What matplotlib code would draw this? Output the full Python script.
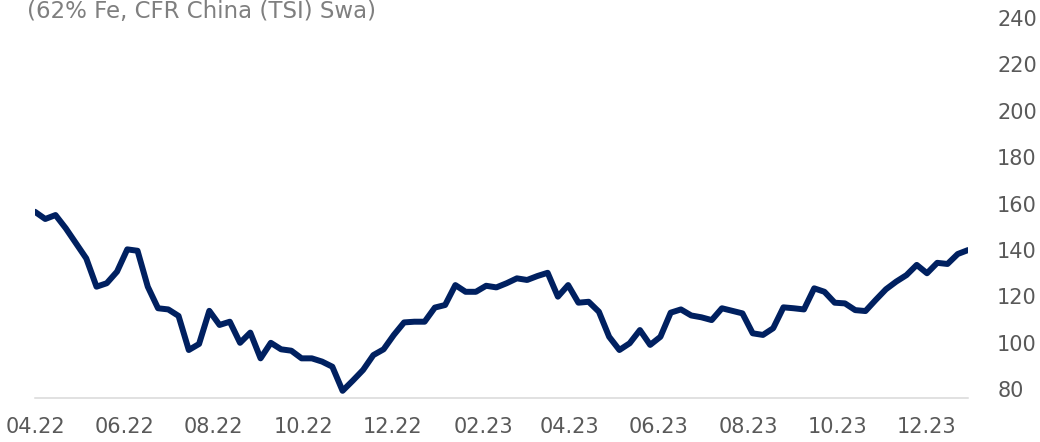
import pandas as pd
import matplotlib
matplotlib.use('Agg')
import matplotlib.pyplot as plt
import matplotlib.dates as mdates
from matplotlib.transforms import ScaledTranslation

# Weekly iron ore price, 62% Fe CFR China (TSI), USD/t
start_date = '2022-04-01'
prices = [
    160.3, 157.2, 158.9, 153.2, 146.7, 140.2, 128.0, 129.5, 134.5, 144.1,
    143.5, 128.0, 118.7, 118.2, 115.4, 100.7, 103.3, 117.6, 111.5, 112.9,
    103.8, 108.2, 97.1, 103.8, 101.0, 100.4, 97.1, 97.1, 95.7, 93.5,
    83.1, 87.5, 92.1, 98.5, 101.0, 107.2, 112.6, 112.9, 112.9, 119.0,
    120.1, 128.7, 125.8, 125.8, 128.4, 127.7, 129.5, 131.6, 130.9, 132.6,
    134.0, 123.7, 128.7, 121.1, 121.5, 117.2, 106.4, 100.7, 103.6, 109.3,
    102.9, 106.4, 116.8, 118.2, 115.6, 114.8, 113.6, 118.7, 117.6, 116.5,
    107.9, 107.2, 110.1, 119.1, 118.7, 118.2, 127.3, 125.8, 121.1, 120.8,
    117.9, 117.5, 122.3, 126.9, 130.2, 133.0, 137.4, 133.8, 138.3, 137.8,
    142.1, 143.8,
]
dates = pd.date_range(start_date, periods=len(prices), freq='7D')

y_ticks = [80, 100, 120, 140, 160, 180, 200, 220, 240]
title = '(62% Fe, CFR China (TSI) Swa)'

line_color = '#002060'
tick_color = '#595959'

fig = plt.figure(figsize=(10.4, 4.42), dpi=100)
ax = fig.add_axes([35 / 1040, 1 - 398 / 442, (968 - 35) / 1040, (398 - 27) / 442])

ax.plot(dates, prices, color=line_color, linewidth=4.3, solid_capstyle='round',
        solid_joinstyle='round')

ax.set_xlim(dates[0], dates[-1])
ax.set_ylim(80, 240)

# x axis: every second month
ax.xaxis.set_major_locator(mdates.MonthLocator(bymonth=[2, 4, 6, 8, 10, 12]))
ax.xaxis.set_major_formatter(mdates.DateFormatter('%m.%y'))
ax.tick_params(axis='x', length=0, pad=14, labelsize=15, labelcolor=tick_color)

# y axis on the right, labels sit a little above their values
ax.yaxis.tick_right()
ax.set_yticks(y_ticks)
ax.tick_params(axis='y', length=0, pad=21, labelsize=15, labelcolor=tick_color)
offset = ScaledTranslation(0, 9 / 100, fig.dpi_scale_trans)
for tick in ax.yaxis.get_major_ticks():
    tick.label2.set_transform(tick.label2.get_transform() + offset)

for side in ['top', 'left', 'right']:
    ax.spines[side].set_visible(False)
ax.spines['bottom'].set_color('#D9D9D9')
ax.spines['bottom'].set_linewidth(1.1)

fig.text(27 / 1040, 1 - 18.3 / 442, title, fontsize=16.5, color='#7F7F7F',
         va='baseline', ha='left')

fig.savefig('out.png', dpi=100)
